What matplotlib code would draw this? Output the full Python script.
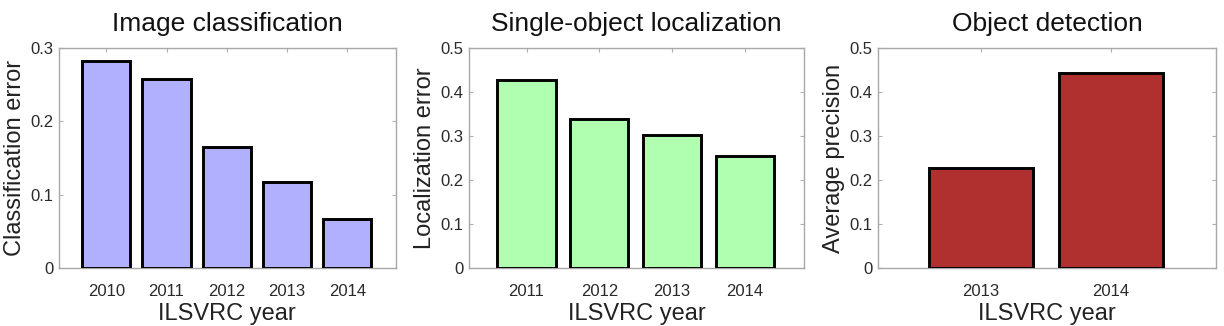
import matplotlib
matplotlib.use("Agg")
import matplotlib.pyplot as plt

plt.rcParams['font.family'] = ['Liberation Sans', 'DejaVu Sans']

# Data
titles = ["Image classification", "Single-object localization", "Object detection"]
ylabels = ["Classification error", "Localization error", "Average precision"]
xlabel = "ILSVRC year"

cls_years = ["2010", "2011", "2012", "2013", "2014"]
cls_error = [0.282, 0.258, 0.165, 0.117, 0.067]

loc_years = ["2011", "2012", "2013", "2014"]
loc_error = [0.427, 0.338, 0.302, 0.254]

det_years = ["2013", "2014"]
det_ap = [0.227, 0.442]

yticks_cls = [0, 0.1, 0.2, 0.3]
yticklabels_cls = ["0", "0.1", "0.2", "0.3"]
yticks_05 = [0, 0.1, 0.2, 0.3, 0.4, 0.5]
yticklabels_05 = ["0", "0.1", "0.2", "0.3", "0.4", "0.5"]

colors = ["#b0b0ff", "#b0ffb0", "#b03030"]

W, H = 1224, 326
fig = plt.figure(figsize=(W / 100, H / 100), dpi=100)

# axes boxes in pixels (left, right)
boxes = [(58.7, 396.0), (469.0, 804.0), (878.3, 1216.0)]
top_px, bot_px = 47.7, 268.3

panels = [
    (cls_years, cls_error, yticks_cls, yticklabels_cls, 0.3),
    (loc_years, loc_error, yticks_05, yticklabels_05, 0.5),
    (det_years, det_ap, yticks_05, yticklabels_05, 0.5),
]

for i, ((years, vals, yt, ytl, ymax), (l, r)) in enumerate(zip(panels, boxes)):
    ax = fig.add_axes([l / W, 1 - bot_px / H, (r - l) / W, (bot_px - top_px) / H])
    pos = list(range(1, len(years) + 1))
    ax.bar(pos, vals, width=0.8, color=colors[i], edgecolor="black", linewidth=2.1, zorder=3)
    ax.set_xlim(0.21, len(years) + 0.81)
    ax.set_ylim(0, ymax)
    ax.set_xticks(pos)
    ax.set_xticklabels(years)
    ax.set_yticks(yt)
    ax.set_yticklabels(ytl)
    for s in ax.spines.values():
        s.set_color("#a8a8a8")
        s.set_linewidth(1.0)
    ax.tick_params(axis="both", direction="in", length=3, width=0.8, color="#b0b0b0",
                   top=True, right=True, labelsize=12, labelcolor="#2a2a2a")
    ax.tick_params(axis="x", pad=11)
    ax.tick_params(axis="y", pad=4)
    ax.set_title(titles[i], fontsize=19, pad=12, color="#111111")
    ax.set_xlabel(xlabel, fontsize=17, labelpad=3, color="#222222")
    ax.set_ylabel(ylabels[i], fontsize=17, labelpad=3, color="#222222")

fig.savefig("out.png", dpi=100)
